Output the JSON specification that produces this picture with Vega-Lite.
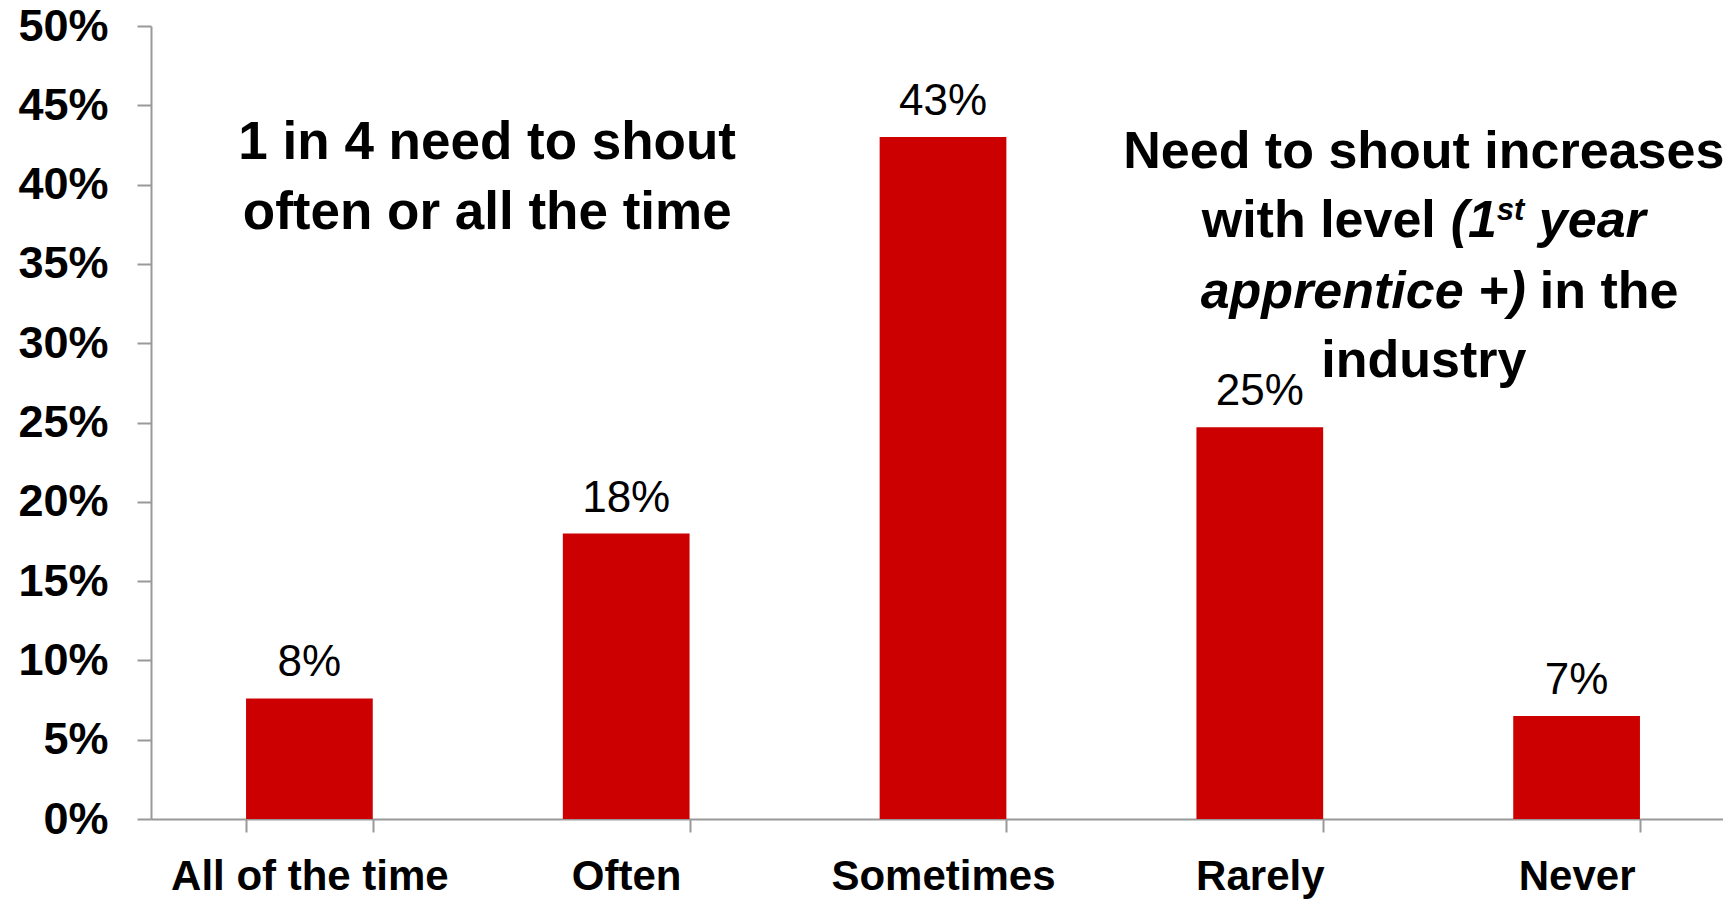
{
  "$schema": "https://vega.github.io/schema/vega-lite/v6.json",
  "autosize": {"type": "none"},
  "width": 1572,
  "height": 793,
  "padding": {"left": 151, "top": 26, "right": 0, "bottom": 82},
  "background": "white",
  "config": {"view": {"stroke": null}, "font": "Liberation Sans", "text": {"font": "Liberation Sans", "color": "black"}},
  "data": {"values": [
    {"cat": "All of the time", "value": 0.076, "label": "8%"},
    {"cat": "Often", "value": 0.18, "label": "18%"},
    {"cat": "Sometimes", "value": 0.43, "label": "43%"},
    {"cat": "Rarely", "value": 0.247, "label": "25%"},
    {"cat": "Never", "value": 0.065, "label": "7%"}
  ]},
  "layer": [
    {
      "mark": {"type": "bar", "color": "#CC0000"},
      "encoding": {
        "x": {
          "field": "cat", "type": "nominal",
          "scale": {"domain": ["All of the time", "Often", "Sometimes", "Rarely", "Never"], "range": [0, 1584], "paddingInner": 0.6, "paddingOuter": 0.3},
          "axis": {"title": null, "tickBand": "extent", "tickSize": 13, "tickWidth": 2, "tickColor": "#999999", "domainColor": "#999999", "domainWidth": 2, "labelAngle": 0, "labelFont": "Liberation Sans", "labelFontSize": 42, "labelFontWeight": "bold", "labelColor": "black", "labelBaseline": "alphabetic", "labelPadding": 57, "labelLimit": 1000, "labelOverlap": false}
        },
        "y": {
          "field": "value", "type": "quantitative",
          "scale": {"domain": [0, 0.5]},
          "axis": {"title": null, "values": [0, 0.05, 0.1, 0.15, 0.2, 0.25, 0.3, 0.35, 0.4, 0.45, 0.5], "format": ".0%", "grid": false, "tickSize": 14, "tickWidth": 2, "tickColor": "#999999", "domainColor": "#999999", "domainWidth": 2, "labelFont": "Liberation Sans", "labelFontSize": 45, "labelFontWeight": "bold", "labelColor": "black", "labelPadding": 29}
        }
      }
    },
    {
      "mark": {"type": "text", "baseline": "alphabetic", "dy": -22, "fontSize": 44},
      "encoding": {
        "x": {"field": "cat", "type": "nominal"},
        "y": {"field": "value", "type": "quantitative"},
        "text": {"field": "label"}
      }
    },
    {
      "data": {"values": [{"note": "1 in 4 need to shout"}]},
      "mark": {"type": "text", "baseline": "alphabetic", "align": "center", "dx": -139, "fontSize": 53, "fontWeight": "bold"},
      "encoding": {"x": {"datum": "Often"}, "y": {"datum": 0.4161}, "text": {"field": "note"}}
    },
    {
      "data": {"values": [{"note": "often or all the time"}]},
      "mark": {"type": "text", "baseline": "alphabetic", "align": "center", "dx": -139, "fontSize": 53, "fontWeight": "bold"},
      "encoding": {"x": {"datum": "Often"}, "y": {"datum": 0.372}, "text": {"field": "note"}}
    },
    {
      "data": {"values": [{"note": "Need to shout increases"}]},
      "mark": {"type": "text", "baseline": "alphabetic", "align": "center", "dx": 164, "fontSize": 52, "fontWeight": "bold"},
      "encoding": {"x": {"datum": "Rarely"}, "y": {"datum": 0.4105}, "text": {"field": "note"}}
    },
    {
      "data": {"values": [{"note": "with level"}]},
      "mark": {"type": "text", "baseline": "alphabetic", "align": "right", "dx": 176, "fontSize": 52, "fontWeight": "bold"},
      "encoding": {"x": {"datum": "Rarely"}, "y": {"datum": 0.367}, "text": {"field": "note"}}
    },
    {
      "data": {"values": [{"note": "(1"}]},
      "mark": {"type": "text", "baseline": "alphabetic", "align": "left", "dx": 191, "fontSize": 52, "fontWeight": "bold", "fontStyle": "italic"},
      "encoding": {"x": {"datum": "Rarely"}, "y": {"datum": 0.367}, "text": {"field": "note"}}
    },
    {
      "data": {"values": [{"note": "st"}]},
      "mark": {"type": "text", "baseline": "alphabetic", "align": "left", "dx": 237, "dy": -17, "fontSize": 31, "fontWeight": "bold", "fontStyle": "italic"},
      "encoding": {"x": {"datum": "Rarely"}, "y": {"datum": 0.367}, "text": {"field": "note"}}
    },
    {
      "data": {"values": [{"note": "year"}]},
      "mark": {"type": "text", "baseline": "alphabetic", "align": "left", "dx": 279, "fontSize": 52, "fontWeight": "bold", "fontStyle": "italic"},
      "encoding": {"x": {"datum": "Rarely"}, "y": {"datum": 0.367}, "text": {"field": "note"}}
    },
    {
      "data": {"values": [{"note": "apprentice +)"}]},
      "mark": {"type": "text", "baseline": "alphabetic", "align": "right", "dx": 266, "fontSize": 52, "fontWeight": "bold", "fontStyle": "italic"},
      "encoding": {"x": {"datum": "Rarely"}, "y": {"datum": 0.3222}, "text": {"field": "note"}}
    },
    {
      "data": {"values": [{"note": "in the"}]},
      "mark": {"type": "text", "baseline": "alphabetic", "align": "left", "dx": 280, "fontSize": 52, "fontWeight": "bold"},
      "encoding": {"x": {"datum": "Rarely"}, "y": {"datum": 0.3222}, "text": {"field": "note"}}
    },
    {
      "data": {"values": [{"note": "industry"}]},
      "mark": {"type": "text", "baseline": "alphabetic", "align": "center", "dx": 164, "fontSize": 52, "fontWeight": "bold"},
      "encoding": {"x": {"datum": "Rarely"}, "y": {"datum": 0.2787}, "text": {"field": "note"}}
    }
  ]
}
